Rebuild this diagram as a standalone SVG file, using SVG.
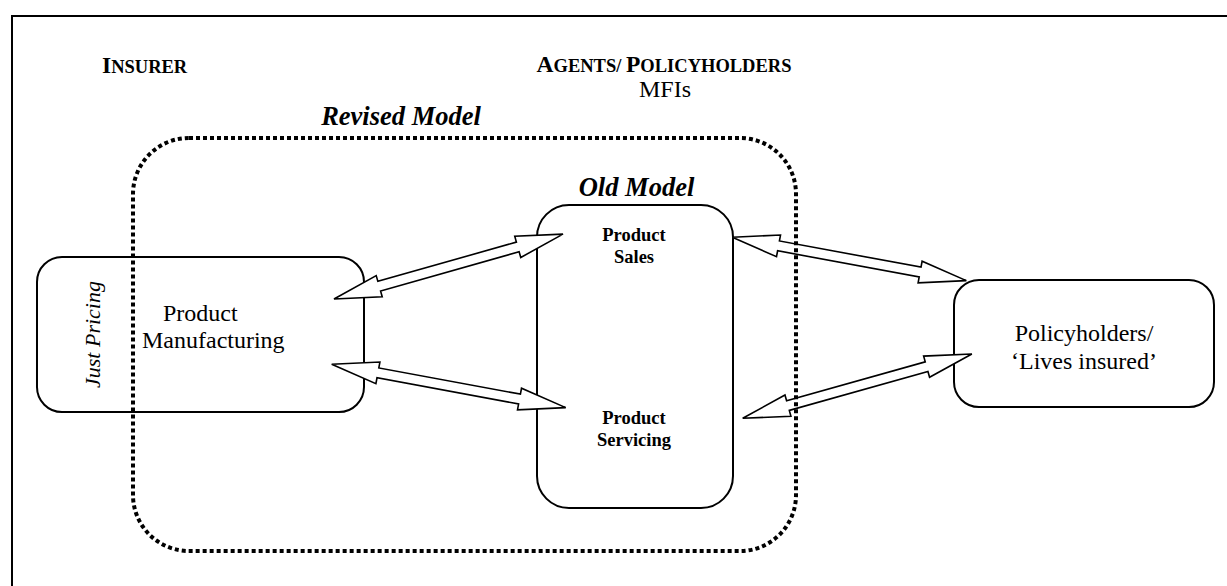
<svg xmlns="http://www.w3.org/2000/svg" xmlns:xlink="http://www.w3.org/1999/xlink" width="1227" height="586" viewBox="0 0 1227 586">
  <style>
    text { font-family: "Liberation Serif", "Times New Roman", serif; fill: #000; }
    .hdr { font-weight: bold; font-size: 23.5px; }
    .sc { font-size: 18.5px; }
    .title { font-weight: bold; font-style: italic; font-size: 26.5px; }
    .lbl { font-size: 24px; }
    .blbl { font-weight: bold; font-size: 18.5px; }
    .box { fill: #fff; stroke: #000; stroke-width: 2; }
    .arrow { fill: #fff; stroke: #000; stroke-width: 1.6; stroke-linejoin: miter; }
    .dotted { fill: none; stroke: #000; stroke-width: 4; stroke-dasharray: 4 3; }
  </style>
  <defs>
    <path id="dbl" d="M0,0 L47,-11 L47,-5 L191,-5 L191,-11 L238,0 L191,11 L191,5 L47,5 L47,11 Z"/>
  </defs>

  <rect x="12" y="16" width="1300" height="700" fill="#fff" stroke="#000" stroke-width="2"/>

  <g id="header-insurer">
    <text class="hdr" x="102" y="73">I<tspan class="sc">NSURER</tspan></text>
  </g>
  <g id="header-agents">
    <text class="hdr" x="664" y="72" text-anchor="middle">A<tspan class="sc">GENTS/ </tspan>P<tspan class="sc">OLICYHOLDERS</tspan></text>
    <text class="lbl" x="665" y="97" text-anchor="middle">MFIs</text>
  </g>

  <g id="node-manufacturing">
    <rect class="box" x="37" y="257" width="327" height="155" rx="25" ry="25"/>
    <text class="lbl" font-style="italic" font-size="22" transform="translate(100,334.5) rotate(-90)" text-anchor="middle" style="font-size:22px">Just Pricing</text>
    <text class="lbl" x="163" y="321">Product</text>
    <text class="lbl" x="142" y="348">Manufacturing</text>
  </g>

  <g id="node-old-model">
    <rect class="box" x="537" y="205" width="196" height="303" rx="32" ry="32"/>
    <text class="blbl" x="634" y="241" text-anchor="middle">Product</text>
    <text class="blbl" x="634" y="263" text-anchor="middle">Sales</text>
    <text class="blbl" x="634" y="424" text-anchor="middle">Product</text>
    <text class="blbl" x="634" y="446" text-anchor="middle">Servicing</text>
  </g>

  <g id="node-policyholders">
    <rect class="box" x="954" y="280" width="260" height="127" rx="25" ry="25"/>
    <text class="lbl" x="1084" y="341" text-anchor="middle">Policyholders/</text>
    <text class="lbl" x="1084" y="369" text-anchor="middle">‘Lives insured’</text>
  </g>

  <g id="connectors">
    <use xlink:href="#dbl" class="arrow" transform="translate(334,299) rotate(-15.83)"/>
    <use xlink:href="#dbl" class="arrow" transform="translate(331.7,364.3) rotate(10.49)"/>
    <use xlink:href="#dbl" class="arrow" transform="translate(732.3,237.3) rotate(10.49)"/>
    <use xlink:href="#dbl" class="arrow" transform="translate(742.7,418.3) rotate(-15.68)"/>
  </g>

  <g id="group-revised-model">
    <rect class="dotted" x="133" y="138" width="663" height="413" rx="56" ry="56"/>
    <text class="title" x="401" y="125" text-anchor="middle">Revised Model</text>
  </g>
  <g id="label-old-model">
    <text class="title" x="636.5" y="196" text-anchor="middle">Old Model</text>
  </g>
</svg>
